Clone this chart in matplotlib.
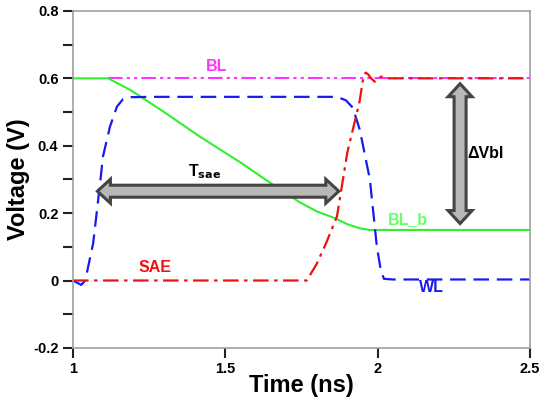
import matplotlib
matplotlib.use('Agg')
import matplotlib.pyplot as plt
import numpy as np
from matplotlib.patches import Polygon
from matplotlib.ticker import MultipleLocator

plt.rcParams['font.family'] = ['Liberation Sans', 'DejaVu Sans']
plt.rcParams['font.weight'] = 'bold'

# values
bl_t = [1.115, 2.5]
bl_v = [0.6, 0.6]

blb_t = [1.0, 1.115, 1.187, 1.302, 1.416, 1.55, 1.679, 1.744, 1.80, 1.859, 1.90, 1.941, 1.974, 2.5]
blb_v = [0.6, 0.6, 0.566, 0.498, 0.427, 0.35, 0.27, 0.232, 0.205, 0.185, 0.167, 0.155, 0.15, 0.15]

wl_t = [1.0, 1.01, 1.027, 1.04, 1.066, 1.089, 1.098, 1.121, 1.144, 1.164, 1.19, 1.25, 1.866, 1.895,
        1.918, 1.941, 1.974, 1.997, 2.01, 2.02, 2.05, 2.5]
wl_v = [0.0, -0.005, -0.013, 0.0, 0.11, 0.29, 0.367, 0.456, 0.516, 0.538, 0.544, 0.545, 0.545, 0.535,
        0.513, 0.447, 0.30, 0.10, 0.03, 0.005, 0.003, 0.003]

sae_t = [1.0, 1.767, 1.80, 1.83, 1.866, 1.90, 1.94, 1.952, 1.96, 1.968, 1.978, 1.99, 2.0, 2.01, 2.03, 2.5]
sae_v = [0.0, 0.0, 0.05, 0.11, 0.19, 0.38, 0.53, 0.60, 0.617, 0.612, 0.60, 0.59, 0.595, 0.605, 0.60, 0.60]

tsae_span = (1.08, 1.872, 0.265)
dvbl_span = (2.27, 0.584, 0.169)


def double_arrow(ax, p0, p1, body=6, head=12, head_len=13):
    # fat double headed arrow, sizes in pixels
    a = ax.transData.transform(p0)
    b = ax.transData.transform(p1)
    d = (b - a) / np.hypot(*(b - a))
    n = np.array([-d[1], d[0]])
    pts = [a,
           a + d * head_len + n * head, a + d * head_len + n * body,
           b - d * head_len + n * body, b - d * head_len + n * head,
           b,
           b - d * head_len - n * head, b - d * head_len - n * body,
           a + d * head_len - n * body, a + d * head_len - n * head]
    pts = ax.transData.inverted().transform(np.array(pts))
    ax.add_patch(Polygon(pts, closed=True, fc='#b8b8b8', ec='#444444', lw=2.2, zorder=5))


fig = plt.figure(figsize=(5.41, 4.05), dpi=100)
ax = fig.add_axes([0.135, 0.141, 0.845, 0.832])

ax.plot(bl_t, bl_v, color='#ff33ff', lw=1.5, dashes=(7, 2, 1.5, 2, 1.5, 2))
ax.plot(blb_t, blb_v, color='#33ee33', lw=1.5)
ax.plot(wl_t, wl_v, color='#1a1aee', lw=1.6, dashes=(7, 3.5))
ax.plot(sae_t, sae_v, color='#ee1111', lw=1.6, dashes=(7, 2.5, 1.5, 2.5))

ax.set_xlim(1, 2.5)
ax.set_ylim(-0.2, 0.8)
ax.yaxis.set_minor_locator(MultipleLocator(0.1))
ax.set_xticks([1, 1.5, 2, 2.5])
ax.set_xticklabels(['1', '1.5', '2', '2.5'])
ax.set_yticks([-0.2, 0, 0.2, 0.4, 0.6, 0.8])
ax.set_yticklabels(['-0.2', '0', '0.2', '0.4', '0.6', '0.8'])
ax.tick_params(axis='both', which='major', length=7, width=1.5, labelsize=10.5, color='#222222')
ax.tick_params(axis='y', which='minor', length=7, width=1.5, color='#222222')
for s in ax.spines.values():
    s.set_color('#a0a0a0')
    s.set_linewidth(1.2)

ax.set_xlabel('Time (ns)', fontsize=17, fontweight='bold', labelpad=-2)
ax.set_ylabel('Voltage (V)', fontsize=17, fontweight='bold', labelpad=2)

double_arrow(ax, (tsae_span[0], tsae_span[2]), (tsae_span[1], tsae_span[2]))
double_arrow(ax, (dvbl_span[0], dvbl_span[1]), (dvbl_span[0], dvbl_span[2]))

ax.text(1.47, 0.634, 'BL', color='#ff33ff', fontsize=11.5, fontweight='bold', ha='center', va='center')
ax.text(2.1, 0.18, 'BL_b', color='#66ff66', fontsize=11.5, fontweight='bold', ha='center', va='center')
ax.text(1.27, 0.04, 'SAE', color='#ee1111', fontsize=11.5, fontweight='bold', ha='center', va='center')
ax.text(2.175, -0.022, 'WL', color='#1a1aee', fontsize=11.5, fontweight='bold', ha='center', va='center')
ax.text(1.43, 0.322, r'T$_{\mathbf{sae}}$', color='black', fontsize=11.5, fontweight='bold',
        ha='center', va='center')
ax.text(2.355, 0.376, '\u0394Vbl', color='black', fontsize=11.5, fontweight='bold', ha='center', va='center')

fig.savefig('out.png', dpi=100)
